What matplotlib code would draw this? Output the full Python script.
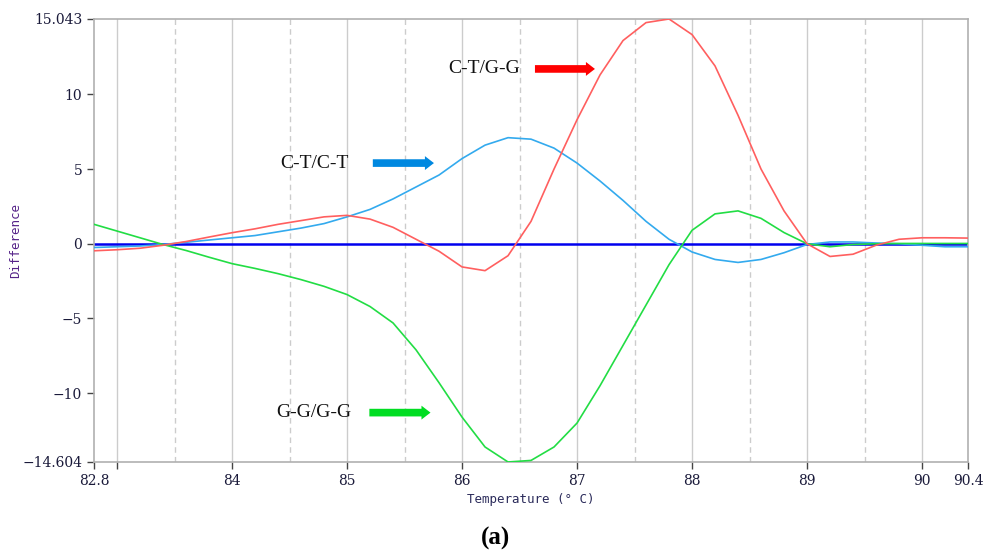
import numpy as np
import matplotlib
matplotlib.use("Agg")
import matplotlib.pyplot as plt

# temperature steps (0.2 C)
temps = [82.8, 83.0, 83.2, 83.4, 83.6, 83.8, 84.0, 84.2, 84.4, 84.6, 84.8,
         85.0, 85.2, 85.4, 85.6, 85.8, 86.0, 86.2, 86.4, 86.6, 86.8,
         87.0, 87.2, 87.4, 87.6, 87.8, 88.0, 88.2, 88.4, 88.6, 88.8,
         89.0, 89.2, 89.4, 89.6, 89.8, 90.0, 90.2, 90.4]

# C-T/G-G (red)
ct_gg = [-0.47, -0.4, -0.3, -0.1, 0.15, 0.45, 0.74, 1.0, 1.3, 1.55, 1.8,
         1.9, 1.65, 1.1, 0.3, -0.5, -1.55, -1.8, -0.8, 1.5, 5.0,
         8.3, 11.3, 13.6, 14.8, 15.043, 14.0, 11.9, 8.6, 5.0, 2.2,
         0.0, -0.85, -0.7, -0.1, 0.3, 0.4, 0.4, 0.38]

# C-T/C-T (light blue)
ct_ct = [-0.25, -0.2, -0.15, -0.05, 0.1, 0.25, 0.4, 0.55, 0.8, 1.05, 1.35,
         1.8, 2.3, 3.0, 3.8, 4.6, 5.7, 6.6, 7.1, 7.0, 6.4,
         5.4, 4.2, 2.9, 1.5, 0.3, -0.55, -1.05, -1.25, -1.05, -0.6,
         -0.05, 0.12, 0.12, 0.05, 0.0, -0.1, -0.2, -0.2]

# G-G/G-G (green)
gg_gg = [1.3, 0.85, 0.4, -0.05, -0.45, -0.9, -1.33, -1.65, -2.0, -2.4, -2.85,
         -3.4, -4.2, -5.3, -7.1, -9.3, -11.6, -13.6, -14.604, -14.5, -13.6,
         -12.0, -9.5, -6.8, -4.1, -1.4, 0.9, 2.0, 2.2, 1.7, 0.75,
         0.0, -0.2, -0.05, 0.0, 0.02, 0.02, 0.02, 0.02]

x_ticks = [82.8, 83, 84, 85, 86, 87, 88, 89, 90, 90.4]
x_labels = ["82.8", "", "84", "85", "86", "87", "88", "89", "90", "90.4"]
y_ticks = [15.043, 10, 5, 0, -5, -10, -14.604]
y_labels = ["15.043", "10", "5", "0", "\u22125", "\u221210", "\u221214.604"]

fig = plt.figure(figsize=(9.91, 5.55), dpi=100)
ax = fig.add_axes([0.0949, 0.1676, 0.8819, 0.7982])

# grid lines: solid at whole degrees, dashed at halves
for g in [83, 84, 85, 86, 87, 88, 89, 90]:
    ax.axvline(g, color="#cccccc", lw=1.0, zorder=0)
for g in [83.5, 84.5, 85.5, 86.5, 87.5, 88.5, 89.5]:
    ax.axvline(g, color="#cccccc", lw=1.0, ls=(0, (4, 3)), zorder=0)

ax.axhline(0, color="#0000ee", lw=1.8, zorder=2)
ax.plot(temps, ct_ct, color="#33aaee", lw=1.2, zorder=3)
ax.plot(temps, gg_gg, color="#22dd44", lw=1.2, zorder=3)
ax.plot(temps, ct_gg, color="#ff5f5f", lw=1.2, zorder=4)

ax.set_xlim(82.8, 90.4)
ax.set_ylim(-14.604, 15.043)

ax.set_xticks(x_ticks)
ax.set_xticklabels(x_labels)
ax.set_yticks(y_ticks)
ax.set_yticklabels(y_labels)
ax.tick_params(direction="out", length=5, width=1, color="#444444",
               labelsize=10, labelcolor="#1a1a3a")
for lab in ax.get_xticklabels() + ax.get_yticklabels():
    lab.set_family("DejaVu Serif")

for s in ax.spines.values():
    s.set_color("#b0b0b0")
    s.set_linewidth(1.2)

ax.set_xlabel("Temperature (\u00b0 C)", family="DejaVu Sans Mono", fontsize=9,
              color="#2a2a5a", labelpad=4)
ax.set_ylabel("Difference", family="DejaVu Sans Mono", fontsize=9,
              color="#552288")
ax.yaxis.set_label_coords(-0.082, 0.5)

# annotations with fat arrows
notes = [("C-T/G-G", 86.19, 11.7, 86.61, 87.18, "#ff0000"),
         ("C-T/C-T", 84.72, 5.4, 85.2, 85.78, "#0088e0"),
         ("G-G/G-G", 84.71, -11.3, 85.17, 85.75, "#00dd22")]
for txt, tx, ty, a0, a1, col in notes:
    ax.text(tx, ty, txt, ha="center", va="center", fontsize=14,
            family="Liberation Serif", color="#111111")
    ax.annotate("", xy=(a1, ty), xytext=(a0, ty),
                arrowprops=dict(arrowstyle="simple,head_width=1.0,head_length=0.65,tail_width=0.55",
                                color=col, lw=0))

fig.text(0.5, 0.03, "(a)", ha="center", va="center", fontsize=18,
         family="Liberation Serif", fontweight="bold")

fig.savefig("out.png", dpi=100)
